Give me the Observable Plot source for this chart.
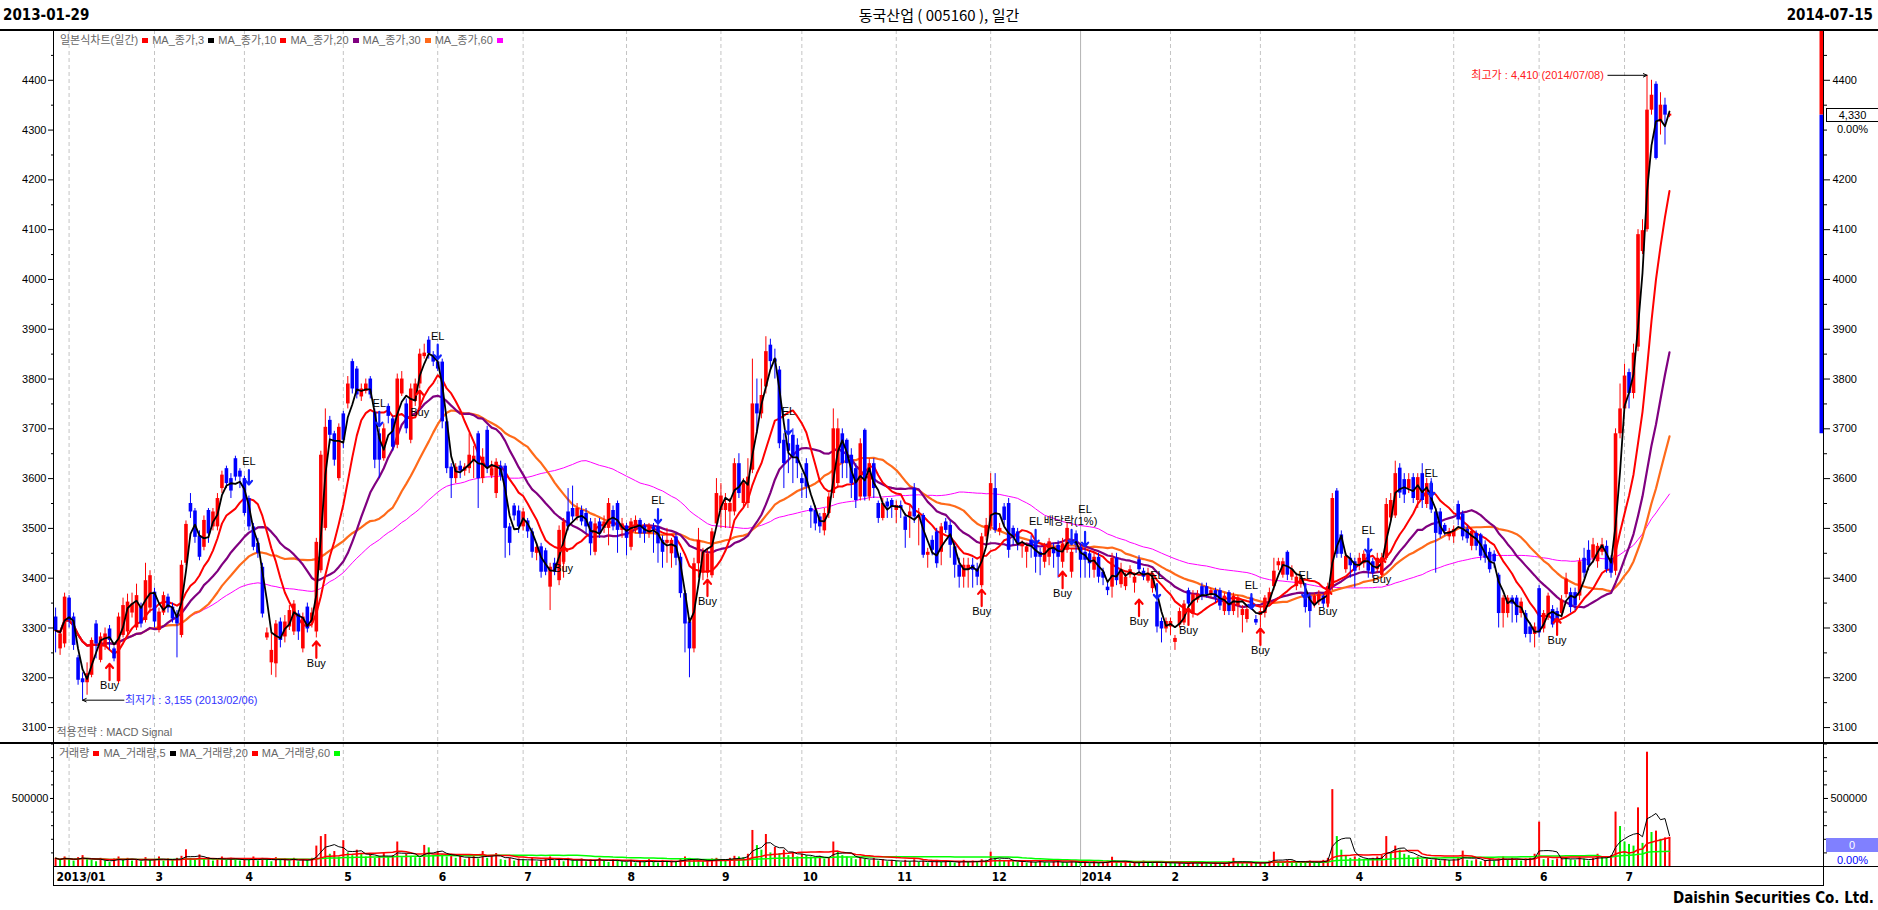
<!DOCTYPE html>
<html><head><meta charset="utf-8">
<script src="https://cdn.jsdelivr.net/npm/d3@7"></script>
<script src="https://cdn.jsdelivr.net/npm/@observablehq/plot@0.6"></script>
<style>
html,body{margin:0;padding:0;background:#fff;}
#wrap{position:relative;width:1878px;height:910px;overflow:hidden;font-family:"Liberation Sans",Arial,"Noto Sans CJK KR",sans-serif;}
.abs{position:absolute;}
.hd{position:absolute;top:6px;font-family:"Liberation Sans Narrow","DejaVu Sans Condensed","Liberation Sans","Noto Sans CJK KR",sans-serif;font-weight:bold;font-size:15px;color:#000;line-height:18px;}
.lg{position:absolute;font-size:11px;color:#666;white-space:nowrap;line-height:13px;font-family:"Liberation Sans","Noto Sans CJK KR",sans-serif;}
.lg i{display:inline-block;width:6px;height:5px;margin:0 4px 1px 4px;vertical-align:middle;}
.hl{position:absolute;background:#000;}
</style></head>
<body><div id="wrap"></div>
<script>
// ---------- DATA ----------
const open = [
3322,3258,3268,3360,3322,3240,3198,3190,3205,3308,
3235,3262,3298,3258,3192,3285,3292,3330,3300,3342,
3315,3340,3372,3295,3330,3362,3342,3325,3285,3430,
3550,3535,3485,3462,3536,3503,3503,3580,3620,3600,
3640,3615,3600,3560,3503,3470,3422,3280,3230,3228,
3312,3282,3302,3292,3328,3258,3342,3310,3292,3415,
3500,3717,3690,3600,3730,3750,3835,3820,3764,3775,
3800,3733,3690,3640,3745,3720,3667,3770,3750,3677,
3755,3790,3845,3878,3848,3834,3834,3714,3623,3600,
3625,3615,3620,3635,3690,3600,3697,3605,3570,3625,
3625,3503,3545,3535,3503,3515,3493,3450,3463,3455,
3382,3430,3395,3432,3533,3540,3523,3536,3530,
3513,3452,3513,3500,3500,3536,3550,3496,3505,3462,
3495,3516,3505,3489,3503,3503,3476,3470,3449,3483,
3442,3369,3312,3258,3429,3410,3410,3405,3509,3536,
3536,3533,3533,3630,3550,3550,3617,3750,3730,3784,
3868,3840,3818,3677,3670,3687,3667,3600,3630,3540,
3536,3523,3495,3530,3570,3590,3690,3677,3647,3620,
3563,3697,3563,3630,3550,3520,3553,3556,3536,3546,
3523,3523,3580,3520,3526,3446,3476,3493,3452,3513,
3506,3463,3426,3402,3416,3426,3419,3385,3483,3503,
3580,3493,3543,3550,3500,3493,3463,3452,3476,3469,
3452,3432,3442,3459,3466,3432,3456,3412,3489,3462,
3452,3449,3416,3442,3412,3382,3382,3440,
3387,3383,3406,3390,3437,3414,3394,3379,3352,3313,
3298,3302,3271,3306,3310,3375,3329,3356,3383,3383,
3367,3375,3375,3333,3371,3333,3344,3325,3317,3360,
3317,3325,3329,3352,3383,3425,3406,3452,3402,3383,
3387,3371,3364,3348,3352,3364,3348,3383,3575,3487,
3417,3440,3433,3425,3429,3452,3433,3417,3406,3440,
3521,3525,3621,3598,3579,3602,3556,3610,3548,3590,
3533,3533,3506,3483,3483,3548,3529,3498,3464,3490,
3487,3467,3452,3448,3406,3329,3329,3360,3360,3329,
3329,3302,3287,3379,3298,3321,3337,3333,3329,3367,
3371,3371,3364,3440,3456,3440,3433,3452,3464,3440,
3414,3690,3740,3813,3771,3864,4056,4100,4340,4392,4316,4350,4328];
const close = [
3295,3288,3362,3315,3265,3195,3190,3208,3275,3268,
3282,3288,3275,3238,3322,3345,3352,3348,3365,3308,
3395,3405,3312,3332,3365,3340,3318,3308,3426,3508,
3533,3482,3442,3516,3489,3533,3560,3607,3590,3575,
3603,3603,3530,3503,3462,3450,3328,3290,3255,3308,
3275,3312,3335,3348,3292,3322,3298,3330,3472,3647,
3703,3687,3637,3703,3677,3790,3780,3768,3780,3790,
3768,3637,3637,3700,3725,3663,3800,3800,3700,3780,
3790,3850,3852,3851,3834,3820,3714,3620,3600,3623,
3615,3623,3647,3645,3600,3643,3620,3620,3633,3605,
3500,3470,3525,3503,3533,3493,3452,3462,3412,3412,
3422,3412,3496,3513,3503,3523,3540,3513,3503,
3469,3509,3489,3513,3550,3503,3496,3509,3480,3513,
3516,3489,3489,3503,3496,3469,3452,3476,3476,3440,
3369,3308,3258,3429,3476,3452,3449,3493,3570,3565,
3550,3550,3630,3570,3590,3603,3750,3730,3767,3855,
3835,3834,3670,3630,3655,3643,3630,3590,3583,3533,
3509,3503,3530,3563,3700,3700,3630,3630,3590,3556,
3670,3563,3630,3580,3520,3550,3543,3543,3546,3540,
3496,3533,3523,3526,3446,3452,3456,3429,3503,3496,
3466,3426,3402,3426,3426,3416,3402,3483,3506,3590,
3496,3500,3516,3456,3480,3469,3469,3463,3463,3442,
3442,3462,3473,3449,3442,3469,3500,3452,3466,3436,
3436,3429,3442,3402,3400,3375,3440,3395,
3417,3402,3417,3402,3417,3402,3410,3398,3302,3298,
3313,3313,3279,3333,3348,3348,3367,3367,3364,3367,
3375,3360,3344,3364,3333,3364,3360,3337,3337,3344,
3310,3333,3360,3371,3414,3433,3433,3406,3417,3402,
3398,3341,3333,3364,3367,3348,3383,3560,3448,3448,
3444,3425,3414,3440,3448,3414,3410,3440,3440,3548,
3556,3610,3571,3567,3598,3560,3602,3556,3590,3537,
3490,3487,3494,3494,3498,3517,3483,3479,3494,3464,
3444,3440,3417,3433,3329,3360,3360,3348,3325,3352,
3287,3287,3302,3290,3329,3364,3306,3310,3356,3398,
3341,3344,3433,3410,3425,3467,3464,3467,3417,3410,
3690,3740,3806,3771,3852,4090,4098,4340,4370,4243,4350,4330,4332];
const high = [
3340,3295,3370,3365,3330,3245,3210,3230,3280,3315,
3290,3300,3305,3262,3330,3360,3368,3370,3388,3350,
3430,3415,3380,3340,3372,3368,3350,3335,3435,3515,
3570,3540,3495,3525,3540,3540,3570,3615,3625,3610,
3645,3620,3605,3565,3510,3480,3430,3300,3290,3315,
3320,3325,3345,3355,3335,3330,3350,3340,3480,3655,
3740,3725,3695,3710,3735,3805,3840,3825,3790,3800,
3805,3740,3700,3710,3750,3725,3810,3815,3760,3790,
3800,3860,3870,3885,3855,3845,3840,3720,3630,3630,
3635,3630,3690,3665,3695,3660,3705,3635,3640,3635,
3630,3510,3550,3545,3540,3520,3500,3470,3470,3460,
3430,3440,3505,3520,3580,3585,3550,3545,3540,
3520,3520,3520,3525,3560,3545,3555,3520,3510,3520,
3525,3520,3510,3510,3510,3510,3485,3500,3480,3490,
3450,3375,3320,3440,3500,3460,3460,3500,3600,3590,
3570,3560,3640,3650,3600,3640,3840,3800,3800,3885,
3880,3860,3825,3690,3690,3700,3680,3610,3640,3545,
3545,3530,3540,3570,3740,3720,3700,3680,3660,3630,
3680,3700,3640,3640,3555,3560,3560,3560,3555,3555,
3530,3545,3590,3540,3530,3460,3485,3500,3510,3520,
3515,3470,3440,3440,3440,3440,3430,3490,3520,3610,
3610,3510,3550,3560,3505,3500,3475,3470,3485,3475,
3460,3470,3480,3470,3475,3480,3510,3460,3495,3470,
3460,3455,3450,3450,3420,3395,3450,3450,
3430,3410,3425,3410,3445,3420,3420,3405,3360,3320,
3320,3320,3285,3340,3355,3380,3375,3375,3390,3390,
3380,3380,3380,3370,3375,3370,3365,3345,3345,3365,
3325,3340,3365,3380,3440,3440,3440,3455,3425,3410,
3405,3380,3370,3370,3375,3370,3390,3570,3580,3495,
3450,3450,3440,3450,3455,3460,3440,3450,3450,3560,
3570,3635,3630,3610,3610,3610,3610,3630,3600,3600,
3540,3540,3510,3500,3505,3555,3535,3505,3500,3495,
3490,3475,3460,3455,3410,3365,3365,3365,3365,3360,
3335,3310,3310,3385,3335,3370,3345,3340,3365,3410,
3380,3380,3440,3460,3475,3480,3470,3480,3475,3445,
3700,3790,3830,3820,3870,4100,4120,4410,4400,4397,4375,4364,4335];
const low = [
3250,3245,3260,3300,3255,3185,3155,3165,3200,3238,
3230,3255,3255,3232,3188,3280,3285,3320,3295,3300,
3310,3330,3300,3290,3325,3330,3310,3240,3280,3425,
3520,3470,3435,3455,3470,3495,3495,3570,3580,3560,
3595,3580,3525,3495,3455,3440,3320,3275,3205,3200,
3260,3270,3295,3285,3275,3250,3290,3300,3280,3410,
3495,3670,3625,3595,3660,3740,3770,3760,3755,3770,
3760,3620,3600,3635,3710,3655,3660,3765,3690,3670,
3745,3780,3840,3840,3825,3815,3700,3610,3560,3590,
3600,3605,3610,3600,3540,3590,3610,3600,3560,3595,
3440,3445,3515,3490,3495,3480,3440,3435,3400,3405,
3335,3405,3385,3400,3495,3515,3515,3505,3490,
3445,3445,3480,3490,3465,3495,3450,3480,3445,3455,
3490,3480,3470,3480,3450,3430,3420,3430,3420,3425,
3360,3250,3200,3250,3400,3395,3400,3400,3500,3500,
3500,3500,3525,3560,3540,3540,3610,3690,3720,3770,
3820,3800,3660,3580,3610,3590,3600,3560,3560,3500,
3495,3490,3485,3520,3560,3580,3600,3600,3560,3540,
3555,3555,3555,3560,3510,3515,3520,3520,3510,3520,
3460,3480,3510,3465,3440,3420,3445,3420,3425,3490,
3440,3400,3380,3380,3380,3380,3385,3380,3475,3495,
3490,3485,3505,3440,3465,3455,3440,3420,3440,3410,
3405,3420,3425,3420,3400,3420,3450,3400,3450,3400,
3400,3400,3400,3390,3385,3365,3360,3385,
3380,3375,3400,3370,3410,3395,3390,3370,3290,3270,
3290,3285,3255,3300,3305,3340,3320,3350,3355,3360,
3360,3350,3335,3325,3325,3325,3320,3290,3310,3335,
3305,3300,3320,3345,3375,3415,3400,3395,3395,3375,
3380,3330,3300,3340,3345,3340,3340,3375,3440,3440,
3410,3400,3380,3415,3420,3400,3400,3410,3400,3435,
3515,3520,3560,3550,3570,3550,3540,3540,3540,3530,
3410,3480,3485,3475,3470,3505,3475,3470,3455,3455,
3435,3430,3410,3420,3300,3300,3320,3310,3310,3320,
3280,3270,3260,3280,3290,3315,3300,3295,3320,3360,
3330,3335,3355,3400,3415,3430,3420,3445,3410,3400,
3405,3680,3730,3740,3760,3855,4050,4095,4330,4240,4290,4270,4325];
// daily volume, thousands of shares
const volumeK = [
60,45,70,55,40,65,80,50,45,35,60,40,30,55,70,45,60,40,50,35,65,45,
50,70,40,55,45,60,75,123,60,45,85,50,65,40,55,70,45,60,50,40,
55,45,70,40,60,50,35,65,45,55,40,60,35,50,45,60,150,220,235,90,110,70,
190,100,80,120,90,70,85,60,75,95,70,80,180,65,90,70,65,60,155,137,80,
110,85,70,90,60,75,50,65,80,55,110,60,75,95,50,45,60,40,55,
50,40,60,35,45,55,70,40,50,35,60,45,40,55,35,50,45,60,40,30,50,45,35,
30,45,25,40,35,50,30,25,45,35,40,30,55,70,60,45,40,35,50,55,60,
50,40,60,75,70,65,90,265,154,120,235,100,140,95,120,80,100,70,
90,80,70,60,75,55,65,180,110,80,70,60,50,65,55,45,60,40,50,35,45,
40,30,45,35,50,30,40,25,35,45,30,40,35,25,30,45,35,40,30,50,45,
105,60,50,40,45,35,30,40,25,35,30,45,30,25,35,40,30,25,35,30,
25,30,20,35,25,30,40,68,30,25,35,20,30,25,40,30,25,35,20,30,
25,20,30,15,25,35,20,30,25,15,30,20,25,35,60,30,25,20,30,25,
30,25,40,105,35,30,45,40,35,30,25,40,35,30,45,60,565,220,120,80,60,
70,60,50,45,60,70,80,220,100,150,120,90,80,60,70,50,60,45,55,40,50,45,
50,60,113,45,40,50,35,45,60,40,55,70,45,60,50,40,55,60,90,
326,50,60,45,55,70,60,50,45,65,55,40,60,90,70,60,80,400,294,
180,162,150,431,170,840,250,260,200,210,215];
// month tick positions (trading-day index) and their labels
const gridIdx = [3,22,42,64,85,104,127,148,166,187,208,248,268,289,311,330,349];
const yearIdx = [228];
const tickIdx = [0,22,42,64,85,104,127,148,166,187,208,228,248,268,289,311,330,349];
const tickLabels = ["2013/01","3","4","5","6","7","8","9","10","11","12","2014","2","3","4","5","6","7"];
const leftPriceTicks = [3100,3200,3300,3400,3500,3600,3700,3800,3900,4000,4100,4200,4300,4400];
const rightPriceTicks = [3100,3200,3300,3400,3500,3600,3700,3800,3900,4000,4100,4200,4400];
// signals
const buyIdx = [12,58,81,113,145,206,224,241,252,268,283,295,334];
const buyPrice = [3184,3229,3733,3419,3353,3333,3369,3313,3295,3255,3333,3397,3275];
const elIdx = [43,72,85,134,163,218,229,245,266,278,292,306];
const elPrice = [3634,3751,3886,3556,3735,3514,3510,3405,3385,3405,3496,3610];
const elTextPrice = [3634,3751,3886,3556,3735,3514,3538,3405,3385,3405,3496,3610];
const elArrowOnlyIdx = [226];
const elArrowOnlyPrice = [3514];
const lowMark = {i: 6, p: 3155, labelI: 15.2, text: "최저가 : 3,155 (2013/02/06)"};
const highMark = {i: 354, p: 4410, labelI: 344.4, text: "최고가 : 4,410 (2014/07/08)"};
const divMark = {i: 219.8, p: 3514, text: "배당락(1%)"};
const lastPrice = 4330, barLow = 3690, priceTop = 4500;
const volBoxValue = 155000;

// ---------- BUILD ----------
const N = close.length;
const data = d3.range(N).map(i => ({i, o: open[i], h: high[i], l: low[i], c: close[i], v: volumeK[i]*1000,
  vup: i === 0 || volumeK[i] >= volumeK[i-1]}));
const xDomain = [-0.245, 393.26];
const col = d => d.c >= d.o ? "#ff0000" : "#0000ff";
const buys = buyIdx.map((i,k) => ({i, p: buyPrice[k]}));
const els = elIdx.map((i,k) => ({i, p: elPrice[k], t: elTextPrice[k]}));
const elsA = elArrowOnlyIdx.map((i,k) => ({i, p: elArrowOnlyPrice[k]}));
const F = "Liberation Sans, Arial, Noto Sans CJK KR, sans-serif";
const ma = (k, stroke, w) => Plot.lineY(data, Plot.windowY({k, anchor: "end"}, {x: "i", y: "c", stroke, strokeWidth: w}));
const minorPrice = d3.range(3100, 4500, 50).filter(v => v % 100 !== 0);

const price = Plot.plot({
  width: 1878, height: 713, marginLeft: 54, marginRight: 55, marginTop: 0, marginBottom: 0,
  style: {background: "transparent", fontFamily: F, overflow: "visible"},
  x: {type: "linear", domain: xDomain, axis: null},
  y: {domain: [3068, priceTop], axis: null},
  marks: [
    Plot.ruleX(gridIdx, {stroke: "#c4c4c4", strokeDasharray: "4,3"}),
    Plot.ruleX(yearIdx, {stroke: "#b4b4b4"}),
    Plot.axisY(leftPriceTicks, {anchor: "left", label: null, tickSize: 6, tickPadding: 2, fontSize: 11, tickFormat: d => String(d)}),
    Plot.axisY(minorPrice, {anchor: "left", label: null, tickSize: 3, tickFormat: () => ""}),
    Plot.axisY(rightPriceTicks, {anchor: "right", label: null, tickSize: 6, tickPadding: 3, fontSize: 11, tickFormat: d => String(d)}),
    Plot.axisY(minorPrice.concat([4300]), {anchor: "right", label: null, tickSize: 3, tickFormat: () => ""}),
    ma(60, "#ff00ff", 1),
    ma(30, "#ff6a1a", 2.2),
    ma(20, "#800080", 2.2),
    ma(10, "#ff0000", 2),
    Plot.ruleX(data, {x: "i", y1: "l", y2: "h", stroke: col, strokeWidth: 1}),
    Plot.ruleX(data, {x: "i", y1: "o", y2: "c", stroke: col, strokeWidth: 3.6}),
    ma(3, "#000000", 1.8),
    Plot.ruleX([xDomain[1]], {y1: lastPrice, y2: priceTop, stroke: "#ff0000", strokeWidth: 4, dx: -2}),
    Plot.ruleX([xDomain[1]], {y1: barLow, y2: lastPrice, stroke: "#0000ff", strokeWidth: 4, dx: -2}),
    Plot.arrow(buys, {x1: "i", x2: "i", y1: d => d.p + 11, y2: d => d.p + 44, stroke: "#ff0000", strokeWidth: 2.2, headLength: 7, headAngle: 80}),
    Plot.text(buys, {x: "i", y: "p", text: () => "Buy", fontSize: 11, fill: "#000"}),
    Plot.arrow(els.concat(elsA), {x1: "i", x2: "i", y1: d => d.p - 17, y2: d => d.p - 46, stroke: "#1020ff", strokeWidth: 2.2, headLength: 7, headAngle: 80}),
    Plot.text(els, {x: "i", y: "t", text: () => "EL", fontSize: 11, fill: "#000"}),
    Plot.text([divMark], {x: "i", y: "p", text: "text", textAnchor: "start", fontSize: 11, fill: "#000"}),
    Plot.arrow([lowMark], {x1: "labelI", x2: "i", y1: "p", y2: "p", stroke: "#000", strokeWidth: 1, headLength: 6, headAngle: 50}),
    Plot.text([lowMark], {x: "labelI", y: "p", text: "text", textAnchor: "start", dx: 1, fontSize: 11, fill: "#3333ff"}),
    Plot.arrow([highMark], {x1: d => d.labelI + 0.9, x2: "i", y1: "p", y2: "p", stroke: "#000", strokeWidth: 1, headLength: 6, headAngle: 50}),
    Plot.text([highMark], {x: "labelI", y: "p", text: "text", textAnchor: "end", fontSize: 11, fill: "#ff2020"}),
    Plot.text(["적용전략 : MACD Signal"], {frameAnchor: "bottom-left", text: d => d, textAnchor: "start", dx: 2, dy: -8, fontSize: 11, fill: "#666"})
  ]
});

const volume = Plot.plot({
  width: 1878, height: 142, marginLeft: 54, marginRight: 55, marginTop: 0, marginBottom: 19,
  style: {background: "transparent", fontFamily: F, overflow: "visible"},
  x: {type: "linear", domain: xDomain, axis: null},
  y: {domain: [0, 904000], axis: null},
  marks: [
    Plot.ruleX(gridIdx, {stroke: "#c4c4c4", strokeDasharray: "4,3"}),
    Plot.ruleX(yearIdx, {stroke: "#b4b4b4"}),
    Plot.axisY([500000], {anchor: "left", label: null, tickSize: 4, tickPadding: 2, fontSize: 11, tickFormat: d => String(d)}),
    Plot.axisY(d3.range(100000, 900001, 100000), {anchor: "left", label: null, tickSize: 3, tickFormat: () => ""}),
    Plot.axisY([500000], {anchor: "right", label: null, tickSize: 4, tickPadding: 3, fontSize: 11, tickFormat: d => String(d)}),
    Plot.axisY(d3.range(100000, 900001, 100000), {anchor: "right", label: null, tickSize: 3, tickFormat: () => ""}),
    Plot.ruleX(data, {x: "i", y1: 0, y2: "v", stroke: d => d.vup ? "#ff0000" : "#00ee00", strokeWidth: 2}),
    Plot.lineY(data, Plot.windowY({k: 60, anchor: "end"}, {x: "i", y: "v", stroke: "#00ff00", strokeWidth: 1.5})),
    Plot.lineY(data, Plot.windowY({k: 20, anchor: "end"}, {x: "i", y: "v", stroke: "#ff0000", strokeWidth: 1.5})),
    Plot.lineY(data, Plot.windowY({k: 5, anchor: "end"}, {x: "i", y: "v", stroke: "#000", strokeWidth: 1})),
    Plot.axisX(tickIdx, {anchor: "bottom", label: null, tickSize: 0, tickPadding: 6, textAnchor: "start", dx: 1, fontSize: 12, fontWeight: "bold",
      fontFamily: "Liberation Sans Narrow, DejaVu Sans Condensed, Liberation Sans, sans-serif",
      tickFormat: d => tickLabels[tickIdx.indexOf(d)]})
  ]
});

// ---------- LAYOUT ----------
const wrap = document.getElementById("wrap");
function add(html){ wrap.insertAdjacentHTML("beforeend", html); }
add(`<div class="hd" style="left:3px">2013-01-29</div>`);
add(`<div class="hd" style="left:0;width:1878px;text-align:center;font-family:'Noto Sans CJK KR',sans-serif;font-weight:normal;font-size:15px;">동국산업 ( 005160 ), 일간</div>`);
add(`<div class="hd" style="right:5px">2014-07-15</div>`);
price.style.position = "absolute"; price.style.left = "0px"; price.style.top = "30px";
volume.style.position = "absolute"; volume.style.left = "0px"; volume.style.top = "743px";
wrap.appendChild(price); wrap.appendChild(volume);
// frame lines
add(`<div class="hl" style="left:0;top:29px;width:1878px;height:2px"></div>`);
add(`<div class="hl" style="left:0;top:742px;width:1878px;height:2px"></div>`);
add(`<div class="hl" style="left:54px;top:866px;width:1824px;height:1px"></div>`);
add(`<div class="hl" style="left:54px;top:885px;width:1770px;height:1px"></div>`);
add(`<div class="hl" style="left:53px;top:30px;width:1px;height:856px"></div>`);
add(`<div class="hl" style="left:1823px;top:30px;width:1px;height:856px"></div>`);
const yx = volume.scale("x").apply(yearIdx[0]);
add(`<div class="abs" style="left:${Math.round(yx)}px;top:866px;width:1px;height:19px;background:#b4b4b4"></div>`);
// legends
add(`<div class="lg" style="left:60px;top:34px">일본식차트(일간)<i style="background:#ff0000"></i>MA_종가,3<i style="background:#000"></i>MA_종가,10<i style="background:#ff0000"></i>MA_종가,20<i style="background:#800080"></i>MA_종가,30<i style="background:#ff6a1a"></i>MA_종가,60<i style="background:#ff00ff"></i></div>`);
add(`<div class="lg" style="left:59px;top:747px">거래량<i style="background:#ff0000"></i>MA_거래량,5<i style="background:#000"></i>MA_거래량,20<i style="background:#ff0000"></i>MA_거래량,60<i style="background:#00ff00"></i></div>`);
// current value boxes
const py = 30 + price.scale("y").apply(lastPrice);
add(`<div class="abs" style="left:1826px;top:${py-7}px;width:51px;height:12px;border:1px solid #000;background:#fff;font-size:11px;line-height:12px;text-align:center;color:#000">${d3.format(",")(lastPrice)}</div>`);
add(`<div class="abs" style="left:1826px;top:${py+8}px;width:53px;font-size:11px;line-height:12px;text-align:center;color:#000">0.00%</div>`);
const vy = 743 + volume.scale("y").apply(volBoxValue);
add(`<div class="abs" style="left:1826px;top:${vy-7}px;width:52px;height:14px;background:#8080ff;font-size:11px;line-height:14px;text-align:center;color:#fff">0</div>`);
add(`<div class="abs" style="left:1826px;top:${vy+9}px;width:53px;font-size:11px;line-height:12px;text-align:center;color:#0000ff">0.00%</div>`);
add(`<div class="hd" style="top:889px;right:4px;font-size:15px">Daishin Securities Co. Ltd.</div>`);
</script>
</body></html>
